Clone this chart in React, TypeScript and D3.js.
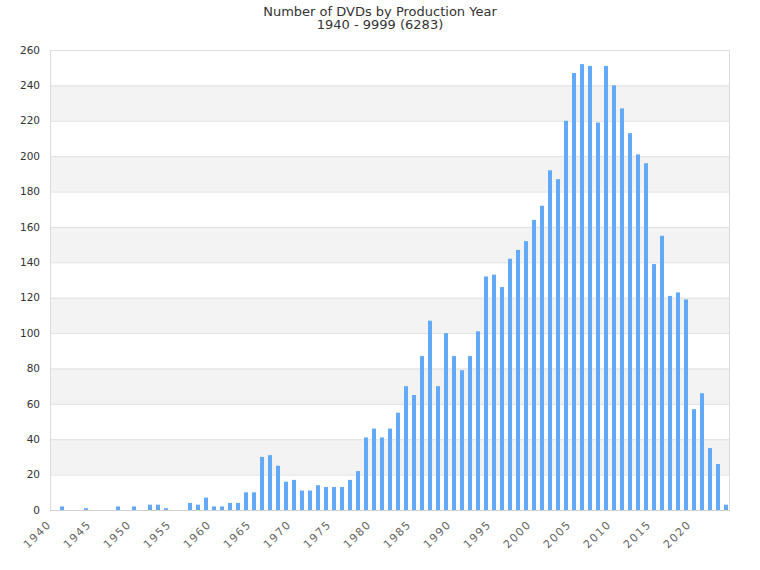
import React, { useRef, useEffect } from "react";
import * as d3 from "d3";

// production years 1940..2024 and the number of DVDs for each
const years = d3.range(1940, 2025);
const counts = [
  0, 2, 0, 0, 1, 0, 0, 0, 2, 0, // 1940-1949
  2, 0, 3, 3, 1, 0, 0, 4, 3, 7, // 1950-1959
  2, 2, 4, 4, 10, 10, 30, 31, 25, 16, // 1960-1969
  17, 11, 11, 14, 13, 13, 13, 17, 22, 41, // 1970-1979
  46, 41, 46, 55, 70, 65, 87, 107, 70, 100, // 1980-1989
  87, 79, 87, 101, 132, 133, 126, 142, 147, 152, // 1990-1999
  164, 172, 192, 187, 220, 247, 252, 251, 219, 251, // 2000-2009
  240, 227, 213, 201, 196, 139, 155, 121, 123, 119, // 2010-2019
  57, 66, 35, 26, 3, // 2020-2024
];
const yTicks = d3.range(0, 261, 20);
const xTickYears = years.filter((y) => y % 5 === 0);

const title = "Number of DVDs by Production Year";
const subtitle = "1940 - 9999 (6283)";

const W = 760;
const H = 570;

const Chart = () => {
  const ref = useRef<SVGSVGElement | null>(null);

  useEffect(() => {
    if (!ref.current) return;
    const svg = d3.select(ref.current);
    svg.selectAll("*").remove();

    const left = 50;
    const right = 730;
    const top = 50;
    const bottom = 510;

    const x = d3
      .scaleBand<number>()
      .domain(years)
      .range([left, right])
      .paddingInner(0.5)
      .paddingOuter(0.25);
    const y = d3.scaleLinear().domain([0, 260]).range([bottom, top]);

    // alternating shaded bands
    svg
      .append("g")
      .selectAll("rect")
      .data(yTicks.filter((t) => t % 40 === 20 && t < 260))
      .enter()
      .append("rect")
      .attr("x", left)
      .attr("width", right - left)
      .attr("y", (d) => y(d + 20))
      .attr("height", (d) => y(d) - y(d + 20))
      .attr("fill", "#f3f3f3");

    // grid lines
    svg
      .append("g")
      .selectAll("line")
      .data(yTicks.slice(1))
      .enter()
      .append("line")
      .attr("x1", left)
      .attr("x2", right)
      .attr("y1", (d) => y(d) + 0.5)
      .attr("y2", (d) => y(d) + 0.5)
      .attr("stroke", "#e0e0e0");

    // frame
    svg
      .append("path")
      .attr("d", `M${left + 0.5},${bottom}V${top + 0.5}H${right - 0.5}V${bottom}`)
      .attr("fill", "none")
      .attr("stroke", "#dcdcdc");

    // bars
    svg
      .append("g")
      .selectAll("rect")
      .data(years.map((yr, i) => ({ yr, v: counts[i] })))
      .enter()
      .append("rect")
      .attr("x", (d) => x(d.yr)!)
      .attr("width", x.bandwidth())
      .attr("y", (d) => y(d.v))
      .attr("height", (d) => bottom - y(d.v))
      .attr("fill", "#63a9f5");

    // x axis line
    svg
      .append("line")
      .attr("x1", left)
      .attr("x2", right)
      .attr("y1", bottom + 0.5)
      .attr("y2", bottom + 0.5)
      .attr("stroke", "#d0d0d0");

    // y tick labels
    svg
      .append("g")
      .selectAll("text")
      .data(yTicks)
      .enter()
      .append("text")
      .attr("x", 40)
      .attr("y", (d) => y(d))
      .attr("dy", "0.35em")
      .attr("text-anchor", "end")
      .attr("font-family", "DejaVu Sans")
      .attr("font-size", "10.5px")
      .attr("fill", "#333")
      .text((d) => d);

    // x tick labels, rotated
    const step = x.step();
    svg
      .append("g")
      .selectAll("text")
      .data(xTickYears)
      .enter()
      .append("text")
      .attr(
        "transform",
        (d) => `translate(${left + (d - 1940) * step + 2},${bottom + 15}) rotate(-45)`
      )
      .attr("text-anchor", "end")
      .attr("font-family", "DejaVu Sans")
      .attr("font-size", "11px")
      .attr("letter-spacing", "1.5px")
      .attr("fill", "#666")
      .text((d) => d);

    // title
    const t = svg
      .append("text")
      .attr("x", W / 2)
      .attr("text-anchor", "middle")
      .attr("font-family", "DejaVu Sans")
      .attr("font-size", "13px")
      .attr("fill", "#333");
    t.append("tspan").attr("x", W / 2).attr("y", 16).text(title);
    t.append("tspan").attr("x", W / 2).attr("y", 29).text(subtitle);
  }, []);

  return (
    <svg
      ref={ref}
      width={W}
      height={H}
      style={{ position: "absolute", left: 0, top: 0, background: "#fff" }}
    />
  );
};

export default function App() {
  return <Chart />;
}
